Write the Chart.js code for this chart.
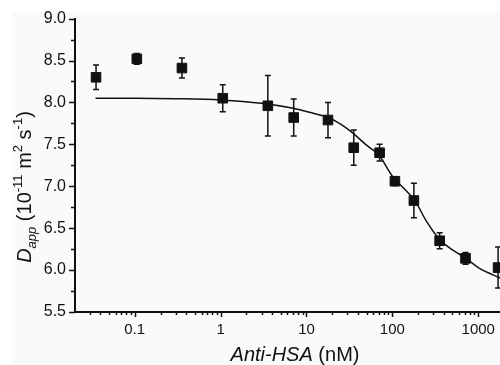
<!DOCTYPE html>
<html>
<head>
<meta charset="utf-8">
<script src="https://cdn.jsdelivr.net/npm/chart.js@4/dist/chart.umd.min.js"></script>
<style>
  html, body { margin: 0; padding: 0; background: #ffffff; }
  #wrap { width: 500px; height: 365px; overflow: hidden; position: relative; }
  #c { position: absolute; left: 0; top: 0; }
</style>
</head>
<body>
<div id="wrap"><canvas id="c" width="540" height="365"></canvas></div>
<script>
// ---- data ----
const concentrations = [0.0355, 0.106, 0.355, 1.06, 3.55, 7.1, 17.8, 35.5, 71, 107, 178, 355, 710, 1700];
const dApp = [8.30, 8.52, 8.41, 8.05, 7.96, 7.82, 7.79, 7.46, 7.40, 7.06, 6.83, 6.35, 6.14, 6.03];
const dAppErr = [0.145, 0.065, 0.12, 0.16, 0.36, 0.22, 0.21, 0.21, 0.10, 0.05, 0.205, 0.095, 0.07, 0.245];

const fitX = [0.035, 0.1, 0.3, 1, 3, 7, 12, 18, 25, 35, 50, 70, 100, 140, 180, 250, 350, 500, 700, 1000, 1850];
const fitY = [8.05, 8.05, 8.045, 8.03, 7.99, 7.93, 7.87, 7.82, 7.74, 7.63, 7.49, 7.37, 7.12, 6.96, 6.84, 6.58, 6.37, 6.24, 6.15, 6.03, 5.90];

const xMajorTicks = [0.1, 1, 10, 100, 1000];
const xMin = 0.0202, xMax = 4000;
const yMin = 5.5, yMax = 9.0, yStep = 0.5;

const FONT = '"Liberation Sans", Arial, sans-serif';
const INK = '#111111';

// background tint like the reference picture
const bgPlugin = {
  id: 'bg',
  beforeDraw(chart) {
    const ctx = chart.ctx;
    ctx.save();
    ctx.fillStyle = '#ffffff';
    ctx.fillRect(0, 0, chart.width, chart.height);
    ctx.fillStyle = '#fafafa';
    ctx.fillRect(12, 12, chart.width - 12, chart.height - 12);
    ctx.restore();
  }
};

// tick marks (major + minor) drawn from the scales
const tickPlugin = {
  id: 'ticks',
  afterDraw(chart) {
    const ctx = chart.ctx;
    const xs = chart.scales.x, ys = chart.scales.y;
    const area = chart.chartArea;
    ctx.save();
    ctx.strokeStyle = INK;
    ctx.lineWidth = 1.5;
    ctx.beginPath();
    for (let e = -2; e <= 4; e++) {
      for (let k = 1; k <= 9; k++) {
        const v = k * Math.pow(10, e);
        if (v < xMin || v > xMax) continue;
        const px = Math.round(xs.getPixelForValue(v)) + 0.5;
        const len = k === 1 ? 5 : 3;
        ctx.moveTo(px, area.bottom);
        ctx.lineTo(px, area.bottom + len);
      }
    }
    for (let v = yMin; v <= yMax + 1e-9; v += yStep / 2) {
      const py = Math.round(ys.getPixelForValue(v)) + 0.5;
      const major = Math.abs(Math.round(v / yStep) * yStep - v) < 1e-6;
      const len = major ? 6 : 4;
      ctx.moveTo(area.left, py);
      ctx.lineTo(area.left - len, py);
    }
    ctx.stroke();
    ctx.restore();
  }
};

// error bars drawn through the scales
const errPlugin = {
  id: 'errbars',
  beforeDatasetsDraw(chart) {
    const ctx = chart.ctx;
    const xs = chart.scales.x, ys = chart.scales.y;
    ctx.save();
    ctx.strokeStyle = INK;
    ctx.lineWidth = 1.5;
    ctx.beginPath();
    concentrations.forEach((c, i) => {
      const px = xs.getPixelForValue(c);
      const top = ys.getPixelForValue(dApp[i] + dAppErr[i]);
      const bot = ys.getPixelForValue(dApp[i] - dAppErr[i]);
      ctx.moveTo(px, top); ctx.lineTo(px, bot);
      ctx.moveTo(px - 3, top); ctx.lineTo(px + 3, top);
      ctx.moveTo(px - 3, bot); ctx.lineTo(px + 3, bot);
    });
    ctx.stroke();
    ctx.restore();
  }
};

// rich-text axis titles (italic, sub- and superscripts)
function segFont(s) {
  const size = (s.sub || s.sup) ? 13 : 20;
  return (s.italic ? 'italic ' : '') + size + 'px ' + FONT;
}
function drawRich(ctx, segs, cx, baseline) {
  let total = 0;
  segs.forEach(s => { ctx.font = segFont(s); s.w = ctx.measureText(s.t).width; total += s.w; });
  let x = cx - total / 2;
  segs.forEach(s => {
    ctx.font = segFont(s);
    const dy = s.sub ? 5 : (s.sup ? -9 : 0);
    ctx.fillText(s.t, x, baseline + dy);
    x += s.w;
  });
}
const titlePlugin = {
  id: 'titles',
  afterDraw(chart) {
    const ctx = chart.ctx;
    ctx.save();
    ctx.fillStyle = INK;
    ctx.textAlign = 'left';
    ctx.textBaseline = 'alphabetic';
    drawRich(ctx, [
      { t: 'Anti-HSA', italic: true },
      { t: ' (nM)' }
    ], 295, 361);
    ctx.translate(31, 187);
    ctx.rotate(-Math.PI / 2);
    drawRich(ctx, [
      { t: 'D', italic: true },
      { t: 'app', italic: true, sub: true },
      { t: ' (10' },
      { t: '-11', sup: true },
      { t: ' m' },
      { t: '2', sup: true },
      { t: ' s' },
      { t: '-1', sup: true },
      { t: ')' }
    ], 0, 0);
    ctx.restore();
  }
};

new Chart(document.getElementById('c'), {
  data: {
    datasets: [
      {
        type: 'line',
        data: fitX.map((x, i) => ({ x: x, y: fitY[i] })),
        borderColor: INK,
        borderWidth: 1.5,
        pointRadius: 0,
        cubicInterpolationMode: 'monotone',
        fill: false,
        order: 2
      },
      {
        type: 'scatter',
        data: concentrations.map((x, i) => ({ x: x, y: dApp[i] })),
        pointStyle: 'rect',
        pointRadius: 6.8,
        pointBackgroundColor: INK,
        pointBorderColor: INK,
        pointBorderWidth: 1,
        order: 1
      }
    ]
  },
  options: {
    responsive: false,
    animation: false,
    devicePixelRatio: 1,
    layout: { padding: { top: 18, right: 10, left: 0, bottom: 0 } },
    plugins: { legend: { display: false }, tooltip: { enabled: false } },
    scales: {
      x: {
        type: 'logarithmic',
        min: xMin,
        max: xMax,
        bounds: 'data',
        grid: { display: false, drawTicks: false },
        border: { display: true, color: INK, width: 2 },
        afterBuildTicks(scale) { scale.ticks = xMajorTicks.map(v => ({ value: v, major: true })); },
        afterFit(scale) { scale.height = 53; },
        ticks: {
          autoSkip: false,
          maxRotation: 0,
          padding: 9,
          color: INK,
          font: { family: FONT, size: 15 },
          callback: (v) => String(v)
        }
      },
      y: {
        type: 'linear',
        min: yMin,
        max: yMax,
        grid: { display: false, drawTicks: false },
        border: { display: true, color: INK, width: 2 },
        afterFit(scale) { scale.width = 75; },
        ticks: {
          stepSize: yStep,
          padding: 9,
          color: INK,
          font: { family: FONT, size: 16 },
          callback: (v) => Number(v).toFixed(1)
        }
      }
    }
  },
  plugins: [bgPlugin, errPlugin, tickPlugin, titlePlugin]
});
</script>
</body>
</html>
